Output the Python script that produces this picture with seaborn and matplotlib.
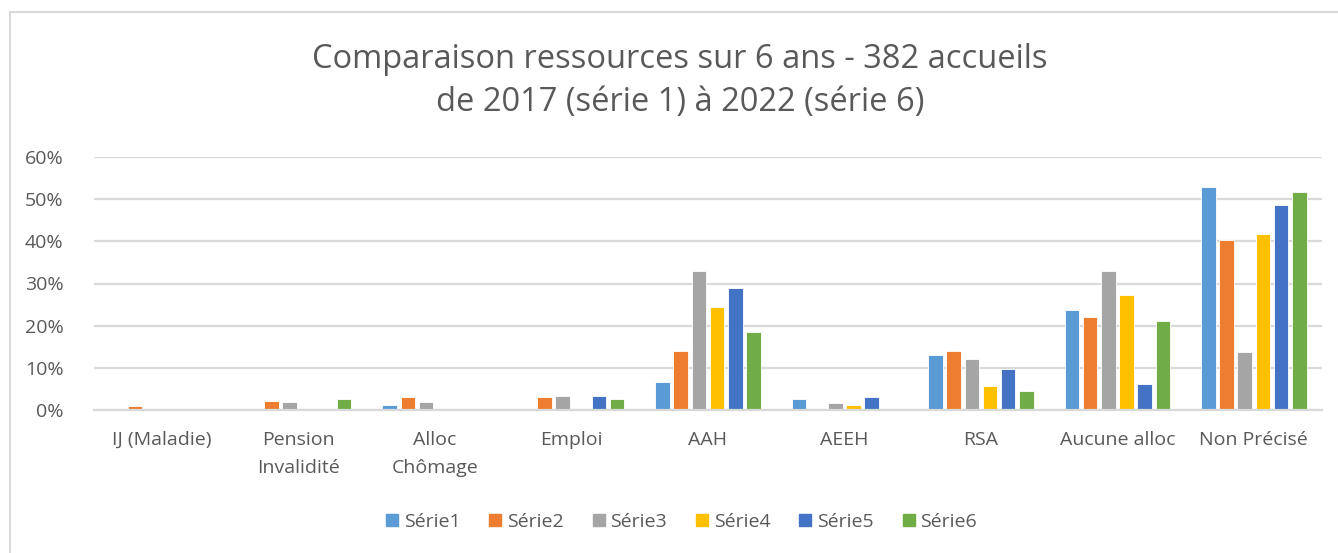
import matplotlib
matplotlib.use("Agg")
import matplotlib.pyplot as plt
import seaborn as sns
import pandas as pd
from matplotlib.ticker import PercentFormatter
from matplotlib.lines import Line2D

categories = ["IJ (Maladie)", "Pension\nInvalidité", "Alloc\nChômage", "Emploi", "AAH",
              "AEEH", "RSA", "Aucune alloc", "Non Précisé"]
series_names = ["Série1", "Série2", "Série3", "Série4", "Série5", "Série6"]

serie1 = [0.0, 0.0, 1.2, 0.0, 6.6, 2.6, 13.0, 23.8, 53.0]
serie2 = [0.9, 2.1, 3.1, 3.1, 14.0, 0.0, 14.0, 22.0, 40.2]
serie3 = [0.0, 1.8, 1.8, 3.4, 33.0, 1.6, 12.1, 33.0, 13.7]
serie4 = [0.0, 0.0, 0.0, 0.0, 24.4, 1.3, 5.6, 27.3, 41.7]
serie5 = [0.0, 0.0, 0.0, 3.4, 29.0, 3.2, 9.7, 6.2, 48.7]
serie6 = [0.0, 2.5, 0.0, 2.5, 18.6, 0.0, 4.4, 21.0, 51.6]

colors = ["#5B9BD5", "#ED7D31", "#A5A5A5", "#FFC000", "#4472C4", "#70AD47"]

all_series = [serie1, serie2, serie3, serie4, serie5, serie6]
rows = []
for name, vals in zip(series_names, all_series):
    for cat, v in zip(categories, vals):
        rows.append({"cat": cat, "serie": name, "val": v / 100.0})
df = pd.DataFrame(rows)

sns.set_theme(style="white")
plt.rcParams["font.family"] = ["Open Sans", "DejaVu Sans"]
txt = "#595959"
grid = "#D9D9D9"

fig = plt.figure(figsize=(13.38, 5.53), dpi=100)
ax = fig.add_axes([94/1338, 1 - 410/553, (1322-94)/1338, (410-157)/553])

sns.barplot(data=df, x="cat", y="val", hue="serie", palette=colors, order=categories,
            hue_order=series_names, width=0.8, gap=0.2, ax=ax, legend=False,
            saturation=1, edgecolor="white", linewidth=0.6)

ax.set_ylim(0, 0.6)
ax.set_xlim(-0.5, len(categories) - 0.5)
ax.set_yticks([0, 0.1, 0.2, 0.3, 0.4, 0.5, 0.6])
ax.yaxis.set_major_formatter(PercentFormatter(1.0, decimals=0))
ax.grid(axis="y", color=grid, linewidth=1.6)
ax.set_axisbelow(True)
for s in ["top", "right", "left"]:
    ax.spines[s].set_visible(False)
ax.spines["bottom"].set_color(grid)
ax.spines["bottom"].set_linewidth(1.6)
ax.set_xlabel("")
ax.set_ylabel("")
ax.tick_params(axis="both", length=0, colors=txt, labelsize=14)
ax.tick_params(axis="y", pad=22)
ax.tick_params(axis="x", pad=15)
for lab in ax.get_xticklabels():
    lab.set_linespacing(1.75)
    lab.set_verticalalignment("top")

fig.text(0.508, 1 - 81/553, "Comparaison ressources sur 6 ans - 382 accueils\nde 2017 (série 1) à 2022 (série 6)",
         ha="center", va="center", fontsize=23.5, color=txt, linespacing=1.42)

handles = [Line2D([0], [0], marker="s", linestyle="none", markersize=9,
                  markerfacecolor=c, markeredgecolor=c) for c in colors]
fig.legend(handles, series_names, loc="center", bbox_to_anchor=(0.508, 1 - 522/553),
           ncol=6, frameon=False, fontsize=14, labelcolor=txt, handletextpad=0.1,
           columnspacing=1.3, handlelength=1.0)

# chart border (top and left visible)
fig.add_artist(Line2D([10/1338, 10/1338], [0, 1 - 12/553], transform=fig.transFigure,
                      color=grid, linewidth=1.5))
fig.add_artist(Line2D([10/1338, 1], [1 - 12/553, 1 - 12/553], transform=fig.transFigure,
                      color=grid, linewidth=1.5))

fig.savefig("out.png", dpi=100, facecolor="white")
